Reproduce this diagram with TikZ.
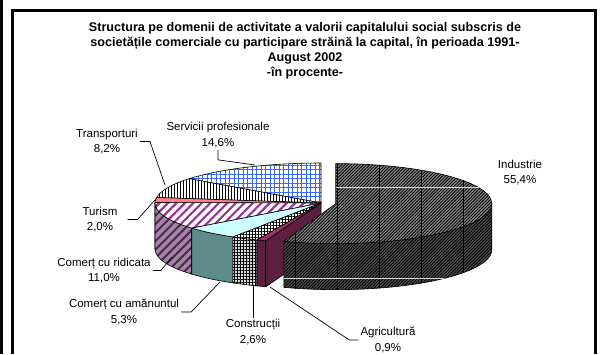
\documentclass[tikz,border=0pt]{standalone}
\usepackage{fontspec}
\setmainfont{Liberation Sans}
\usetikzlibrary{calc,patterns,patterns.meta}

\definecolor{indtop}{HTML}{858585}
\definecolor{indside}{HTML}{505050}
\definecolor{agritop}{HTML}{993366}
\definecolor{agriside}{HTML}{5C1F3D}
\definecolor{amtop}{HTML}{CCFFFF}
\definecolor{amside}{HTML}{5F8C88}
\definecolor{ridpurple}{HTML}{993399}
\definecolor{ridside}{HTML}{9C8CA0}
\definecolor{turtop}{HTML}{FF8080}
\definecolor{turside}{HTML}{993333}
\definecolor{servblue}{HTML}{3366FF}

\tikzset{
  ttl/.style={align=center, font=\bfseries\fontsize{12.6}{15}\selectfont, inner sep=0pt},
  lbl/.style={align=center, font=\fontsize{11.5}{15.5}\selectfont, inner sep=1pt},
  leader/.style={line width=.7pt},
  face/.style={draw, line width=.6pt, line join=round},
  mainarc/.style={x radius=166, y radius=40},
  indarc/.style={x radius=156, y radius=40},
  indtopface/.style={face, preaction={fill=indtop}, pattern={Lines[angle=45,distance=2.2pt,line width=.8pt]}, pattern color=black},
  indsideface/.style={face, preaction={fill=indside}, pattern={Lines[angle=45,distance=2.2pt,line width=.8pt]}, pattern color=black},
  agritopface/.style={face, fill=agritop},
  agrisideface/.style={face, fill=agriside},
  contopface/.style={face, preaction={fill=white}, pattern={Hatch[angle=0,distance=3pt,line width=1pt]}, pattern color=black},
  consideface/.style={face, preaction={fill=gray!30}, pattern={Hatch[angle=0,distance=3pt,line width=1pt]}, pattern color=black},
  amtopface/.style={face, fill=amtop},
  amsideface/.style={face, fill=amside},
  ridtopface/.style={face, preaction={fill=white}, pattern={Lines[angle=45,distance=6pt,line width=2.2pt]}, pattern color=ridpurple},
  ridsideface/.style={face, preaction={fill=ridside}, pattern={Lines[angle=45,distance=6pt,line width=2pt]}, pattern color=ridpurple!60!black},
  turtopface/.style={face, fill=turtop},
  tursideface/.style={face, fill=turside},
  trantopface/.style={face, preaction={fill=white}, pattern={Lines[angle=90,distance=3pt,line width=1pt]}, pattern color=black},
  servtopface/.style={face, preaction={fill=white}, pattern={Hatch[angle=0,distance=4.5pt,line width=.6pt]}, pattern color=servblue}
}

\begin{document}
\begin{tikzpicture}[x=1pt,y=1pt]
\useasboundingbox (0,0) rectangle (601,-354);

% frame
\draw[line width=3pt] (1.5,0) -- (1.5,-354);
\draw[line width=3pt] (12,-354) -- (12,-10.5) -- (595.5,-10.5) -- (595.5,-354);

% title
\node[ttl] (title) at (305,-51) {Structura pe domenii de activitate a valorii capitalului social subscris de\\
societățile comerciale cu participare străină la capital, în perioada 1991-\\August 2002\\-în procente-};

\coordinate (C) at (321,-203);
\coordinate (Ci) at ($(C)+(-9.72:15 and 3.75)$);

% side faces of the main pie (depth 46)
\filldraw[tursideface] ($(C)+(172.08:166 and 40)$) arc[mainarc,start angle=172.08,end angle=180] -- ++(0,-46) arc[mainarc,start angle=180,end angle=172.08] -- cycle;
\filldraw[ridsideface] ($(C)+(180:166 and 40)$) arc[mainarc,start angle=180,end angle=218.88] -- ++(0,-46) arc[mainarc,start angle=218.88,end angle=180] -- cycle;
\filldraw[amsideface] ($(C)+(218.88:166 and 40)$) arc[mainarc,start angle=218.88,end angle=237.96] -- ++(0,-46) arc[mainarc,start angle=237.96,end angle=218.88] -- cycle;
\filldraw[consideface] ($(C)+(237.96:166 and 40)$) arc[mainarc,start angle=237.96,end angle=247.32] -- ++(0,-46) arc[mainarc,start angle=247.32,end angle=237.96] -- cycle;
\filldraw[agrisideface] ($(C)+(247.32:166 and 40)$) arc[mainarc,start angle=247.32,end angle=250.56] -- ++(0,-46) arc[mainarc,start angle=250.56,end angle=247.32] -- cycle;
\filldraw[agrisideface] (C) -- ($(C)+(250.56:166 and 40)$) -- ++(0,-46) -- ($(C)+(0,-46)$) -- cycle;

% top faces of the main pie
\filldraw[servtopface] (C) -- ($(C)+(90:166 and 40)$) arc[mainarc,start angle=90,end angle=142.56] -- cycle;
\filldraw[trantopface] (C) -- ($(C)+(142.56:166 and 40)$) arc[mainarc,start angle=142.56,end angle=172.08] -- cycle;
\filldraw[turtopface] (C) -- ($(C)+(172.08:166 and 40)$) arc[mainarc,start angle=172.08,end angle=179.28] -- cycle;
\filldraw[ridtopface] (C) -- ($(C)+(179.28:166 and 40)$) arc[mainarc,start angle=179.28,end angle=218.88] -- cycle;
\filldraw[amtopface] (C) -- ($(C)+(218.88:166 and 40)$) arc[mainarc,start angle=218.88,end angle=237.96] -- cycle;
\filldraw[contopface] (C) -- ($(C)+(237.96:166 and 40)$) arc[mainarc,start angle=237.96,end angle=247.32] -- cycle;
\filldraw[agritopface] (C) -- ($(C)+(247.32:166 and 40)$) arc[mainarc,start angle=247.32,end angle=250.56] -- cycle;

% exploded slice
\filldraw[indsideface] ($(Ci)+(250.56:156 and 40)$) arc[indarc,start angle=250.56,end angle=360] -- ++(0,-46) arc[indarc,start angle=360,end angle=250.56] -- cycle;
\filldraw[indtopface] (Ci) -- ($(Ci)+(90:156 and 40)$) arc[indarc,start angle=90,end angle=-109.44] -- cycle;
\begin{scope}
\clip (Ci) -- ($(Ci)+(90:156 and 40)$) arc[indarc,start angle=90,end angle=0] -- ++(0,-46) arc[indarc,start angle=0,end angle=-109.44] -- ++(0,46) -- cycle;
\foreach \gx in {295,337,379,421,463}
  \draw[line width=.7pt] (\gx,-150) -- (\gx,-300);
\draw[white!70!gray, line width=.6pt] (280,-187) -- (500,-187);
\draw[white!70!gray, line width=.6pt] (280,-278) -- (500,-278);
\end{scope}

% labels
\node[lbl] (lind) at (520,-172.5) {Industrie\\55,4\%};
\node[lbl] (lserv) at (218,-135) {Servicii profesionale\\14,6\%};
\node[lbl] (ltran) at (107,-141.5) {Transporturi\\8,2\%};
\node[lbl] (ltur) at (100,-219.5) {Turism\\2,0\%};
\node[lbl] (lrid) at (104,-270.5) {Comerț cu ridicata\\11,0\%};
\node[lbl] (lam) at (124,-312) {Comerț cu amănuntul\\5,3\%};
\node[lbl] (lcon) at (253,-332) {Construcții\\2,6\%};
\node[lbl] (lagri) at (388,-340) {Agricultură\\0,9\%};

\coordinate (pserv) at (255,-165);
\coordinate (ptran) at (165,-185);
\coordinate (ptur) at (155,-200);
\coordinate (prid) at (172,-257);
\coordinate (pam) at (220,-282);
\coordinate (pcon) at (253,-286);
\coordinate (pagri) at (270,-287);

% leader lines
\draw[leader] ([yshift=-1pt]lserv.south) -- ++(0,-10) -- (pserv);
\draw[leader] ([xshift=1pt]ltran.east) -- ++(10,0) -- (ptran);
\draw[leader] ([xshift=9pt]ltur.east) -- ++(10,0) -- (ptur);
\draw[leader] ([xshift=1pt]lrid.east) -- ++(8,0) -- (prid);
\draw[leader] ([xshift=1pt]lam.east) -- ++(10,0) -- (pam);
\draw[leader] (lcon.north) -- (pcon);
\draw[leader] ([xshift=-1pt]lagri.west) -- ++(-9,0) -- (pagri);
\end{tikzpicture}
\end{document}
